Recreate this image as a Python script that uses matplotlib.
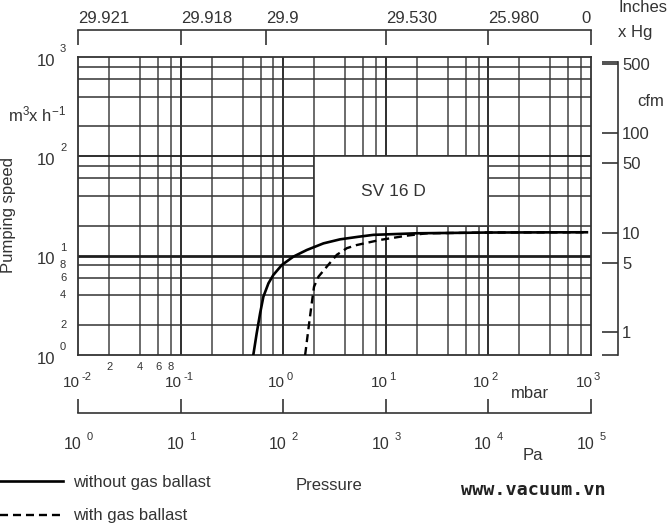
import matplotlib
matplotlib.use('Agg')
import matplotlib.pyplot as plt
from matplotlib.patches import Rectangle
from matplotlib.ticker import FixedLocator, FixedFormatter, NullFormatter, NullLocator

plt.rcParams['font.family'] = ['Liberation Sans', 'DejaVu Sans']
plt.rcParams['mathtext.fontset'] = 'custom'
plt.rcParams['mathtext.rm'] = 'Liberation Sans'
plt.rcParams['mathtext.it'] = 'Liberation Sans:italic'

# pumping speed curves (pressure in mbar, speed in m3/h)
p_solid = [0.509, 0.549, 0.593, 0.638, 0.715, 0.798, 0.966, 1.25, 1.69, 2.46, 3.57, 5.39, 7.55, 20, 100, 912]
s_solid = [1.0, 1.65, 2.63, 3.86, 5.27, 6.39, 8.06, 9.77, 11.4, 13.3, 14.6, 15.5, 16.2, 16.8, 17.1, 17.2]
p_dash = [1.63, 1.75, 1.89, 1.99, 2.20, 2.65, 3.32, 4.16, 5.20, 8.77, 16.0, 25.1, 100, 912]
s_dash = [1.0, 1.79, 3.31, 4.87, 6.15, 7.75, 10.2, 11.9, 12.8, 14.4, 15.9, 16.8, 17.1, 17.2]

# top scale: inches Hg at mbar positions
inch_pos = [0.01, 0.1, 0.68, 10, 100, 1000]
inch_labels = ['29.921', '29.918', '29.9', '29.530', '25.980', '0']

mbar_exp = [-2, -1, 0, 1, 2, 3]
pa_exp = [0, 1, 2, 3, 4, 5]
speed_exp = [0, 1, 2, 3]
minor_marks = [2, 4, 6, 8]

cfm_ticks = [1, 5, 10, 50, 100, 500]
cfm_labels = ['1', '5', '10', '50', '100', '500']
M3H_TO_CFM = 0.588578

W, H = 669, 525
L, R, T, B = 78.3, 591, 57, 355
C = '#333333'
PT = 0.72  # points per pixel at 100 dpi


def box(x0, y0, x1, y1):
    return [x0 / W, 1 - y1 / H, (x1 - x0) / W, (y1 - y0) / H]


def note(a, s, xy, trans, dx, dy, ha, size):
    a.annotate(s, xy=xy, xycoords=trans, xytext=(dx * PT, dy * PT), textcoords='offset points',
               ha=ha, va='center', fontsize=size, color=C, annotation_clip=False)


fig = plt.figure(figsize=(W / 100, H / 100), dpi=100)

ax = fig.add_axes(box(L, T, R, B))
ax.set_xscale('log')
ax.set_yscale('log')
ax.set_xlim(1e-2, 1e3)
ax.set_ylim(1, 1e3)

# grid
for k in range(-2, 3):
    for m in [1, 2, 4, 6, 8]:
        v = m * 10.0 ** k
        if v <= 1e-2:
            continue
        if m == 1:
            ax.axvline(v, color='#1e1e1e', lw=1.3, zorder=1)
        else:
            ax.axvline(v, color='#444444', lw=1.1, zorder=1)
for k in range(0, 3):
    for m in [1, 2, 4, 6, 8]:
        v = m * 10.0 ** k
        if v <= 1:
            continue
        if v == 10:
            ax.axhline(v, color='#1e1e1e', lw=2.0, zorder=1)
        elif m == 1:
            ax.axhline(v, color='#1e1e1e', lw=1.3, zorder=1)
        else:
            ax.axhline(v, color='#333333', lw=1.1, zorder=1)

ax.add_patch(Rectangle((2, 20), 98, 80, fc='white', ec=C, lw=1.2, zorder=1.5))
ax.text(11.8, 43.8, 'SV 16 D', ha='center', va='center', fontsize=12.5, color=C, zorder=3)

l1, = ax.plot(p_solid, s_solid, color='black', lw=1.9, zorder=4, label='without gas ballast')
l2, = ax.plot(p_dash, s_dash, color='black', lw=1.7, ls=(0, (3.4, 2.1)), zorder=4, label='with gas ballast')

for s in ax.spines.values():
    s.set_color(C)
    s.set_linewidth(1.3)
ax.tick_params(which='both', length=0, labelbottom=False, labelleft=False)

# left labels
ty = ax.get_yaxis_transform()
for e in speed_exp:
    note(ax, '10', (0, 10 ** e), ty, -23.3, -4, 'right', 12)
    note(ax, str(e), (0, 10 ** e), ty, -18.3, 8, 'left', 8)
for m in minor_marks:
    note(ax, str(m), (0, m), ty, -18.3, 0, 'left', 8)
tx = ax.get_xaxis_transform()
for m in minor_marks:
    note(ax, str(m), (m * 1e-2, 0), tx, 0, -12, 'center', 8)

# right cfm scale
axr = ax.twinx()
axr.set_yscale('log')
lo = 1 * M3H_TO_CFM
axr.set_ylim(lo, 1000 * M3H_TO_CFM)
for s in ['left', 'top', 'bottom']:
    axr.spines[s].set_visible(False)
axr.spines['right'].set_position(('axes', (618 - L) / (R - L)))
axr.spines['right'].set_bounds(lo, 528)
axr.spines['right'].set_color(C)
axr.spines['right'].set_linewidth(1.2)
axr.yaxis.set_major_locator(FixedLocator(cfm_ticks))
axr.yaxis.set_major_formatter(FixedFormatter(cfm_labels))
axr.yaxis.set_minor_locator(FixedLocator([lo, 528]))
axr.yaxis.set_minor_formatter(NullFormatter())
axr.tick_params(axis='y', which='both', direction='in', length=11.5, width=1.2, color=C,
                pad=3, labelsize=12, labelcolor=C)

# top inches Hg scale
ax_in = fig.add_axes(box(L, 30, R, 45))
ax_in.set_xscale('log')
ax_in.set_xlim(1e-2, 1e3)
ax_in.patch.set_visible(False)
for s in ['left', 'right', 'bottom']:
    ax_in.spines[s].set_visible(False)
ax_in.spines['top'].set_color(C)
ax_in.spines['top'].set_linewidth(1.2)
ax_in.set_yticks([])
ax_in.xaxis.set_major_locator(FixedLocator(inch_pos))
ax_in.xaxis.set_major_formatter(FixedFormatter(inch_labels))
ax_in.xaxis.set_minor_locator(NullLocator())
ax_in.tick_params(axis='x', direction='in', length=10.8, width=1.2, color=C, pad=3,
                  labelsize=12, labelcolor=C, top=True, bottom=False, labeltop=True, labelbottom=False)
labs = ax_in.get_xticklabels()
for lbl in labs:
    lbl.set_ha('left')
labs[-1].set_ha('right')

# bottom pressure scale (mbar above the line, Pa below)
ax_p = fig.add_axes(box(L, 399, R, 413))
ax_p.set_xscale('log')
ax_p.set_xlim(1e-2, 1e3)
ax_p.patch.set_visible(False)
for s in ['left', 'right', 'top']:
    ax_p.spines[s].set_visible(False)
ax_p.spines['bottom'].set_color(C)
ax_p.spines['bottom'].set_linewidth(1.2)
ax_p.set_yticks([])
ax_p.xaxis.set_major_locator(FixedLocator([10.0 ** e for e in mbar_exp]))
ax_p.xaxis.set_minor_locator(NullLocator())
ax_p.tick_params(axis='x', direction='in', length=10, width=1.2, color=C,
                 top=False, bottom=True, labeltop=False, labelbottom=False)
tp = ax_p.get_xaxis_transform()
for e in mbar_exp:
    note(ax_p, '10', (10.0 ** e, 0), tp, 1.5, 30, 'right', 11)
    note(ax_p, str(e), (10.0 ** e, 0), tp, 3, 36.5, 'left', 8)
for e in pa_exp:
    # Pa = 100 x mbar
    note(ax_p, '10', (10.0 ** e / 100, 0), tp, 3.5, -31.5, 'right', 11.5)
    note(ax_p, str(e), (10.0 ** e / 100, 0), tp, 8.5, -23.5, 'left', 8)

# labels
fig.text(9 / W, 1 - 215 / H, 'Pumping speed', rotation=90, ha='center', va='center', fontsize=12, color=C)
fig.text(8 / W, 1 - 121 / H, r'm$\mathregular{^{3}}$x h$\mathregular{^{-1}}$', ha='left', va='baseline',
         fontsize=12, color=C)
fig.text(651 / W, 1 - 102 / H, 'cfm', ha='center', va='center', fontsize=12, color=C)
fig.text(618 / W, 1 - 8 / H, 'Inches', ha='left', va='center', fontsize=12, color=C)
fig.text(618 / W, 1 - 32 / H, 'x Hg', ha='left', va='center', fontsize=12, color=C)
fig.text(530 / W, 1 - 394 / H, 'mbar', ha='center', va='center', fontsize=12, color=C)
fig.text(533 / W, 1 - 456 / H, 'Pa', ha='center', va='center', fontsize=12, color=C)
fig.text(329 / W, 1 - 485 / H, 'Pressure', ha='center', va='center', fontsize=12, color=C)
fig.text(533 / W, 1 - 490 / H, 'www.vacuum.vn', ha='center', va='center', fontsize=13.3,
         fontweight='bold', family='DejaVu Sans Mono', color='#222222')

fig.legend(handles=[l1, l2], loc='upper left', bbox_to_anchor=(0, 1 - 475 / H), frameon=False,
           fontsize=12, labelcolor=C, handlelength=3.78, handletextpad=0.63, labelspacing=1.1,
           borderpad=0, borderaxespad=0)

fig.savefig('out.png', dpi=100)
